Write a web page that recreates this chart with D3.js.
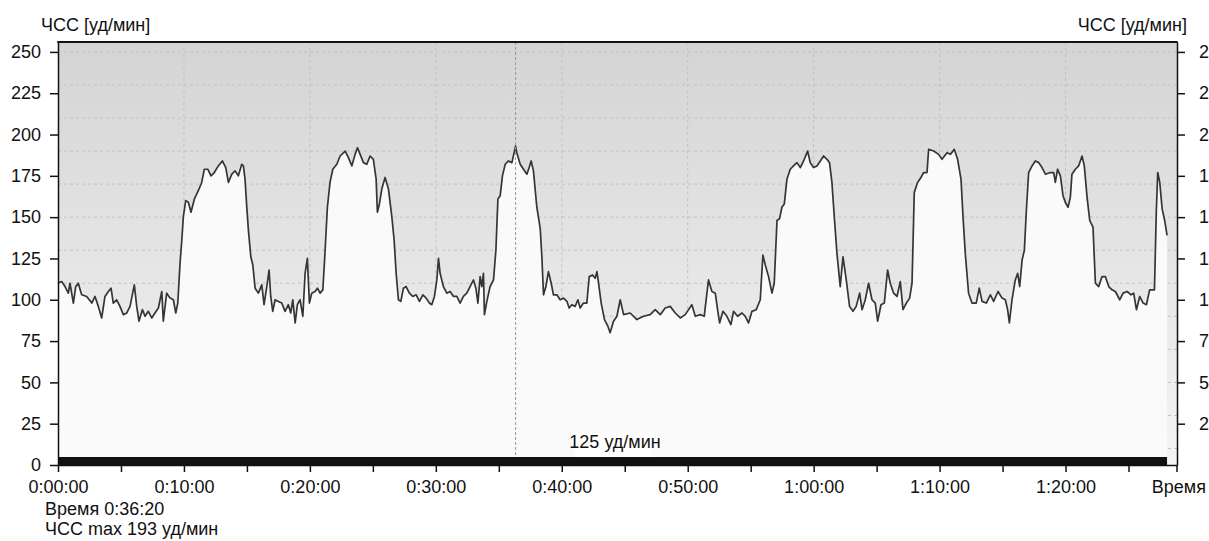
<!DOCTYPE html>
<html><head><meta charset="utf-8">
<script src="https://cdn.jsdelivr.net/npm/d3@7"></script>
<style>
html,body{margin:0;padding:0;background:#fff;}
svg{display:block;font-family:"Liberation Sans",Arial,sans-serif;}
</style></head><body>
<svg id="chart" width="1209" height="541"></svg>
<script>
// time of each heart-rate sample, minutes from start
const timeMinutes = [
0,0.29,0.56,0.82,0.95,1.22,1.41,1.61,1.88,2.28,
2.68,2.94,3.20,3.47,3.73,4.00,4.21,4.39,4.66,4.92,
5.19,5.46,5.72,6.06,6.25,6.43,6.70,6.91,7.17,7.44,
7.70,7.97,8.24,8.36,8.63,8.90,9.16,9.35,9.51,9.69,
9.83,9.95,10.14,10.35,10.56,10.83,11.14,11.41,11.62,11.89,
12.15,12.41,12.73,13.05,13.32,13.53,13.80,14.06,14.32,14.59,
14.72,14.85,14.99,15.12,15.31,15.47,15.65,15.91,16.18,16.36,
16.58,16.76,16.89,17.05,17.24,17.50,17.77,18.03,18.29,18.48,
18.64,18.83,19.01,19.22,19.44,19.62,19.80,19.96,20.15,20.41,
20.60,20.81,21.03,21.21,21.39,21.60,21.82,22.14,22.40,22.80,
23.06,23.33,23.59,23.78,23.99,24.25,24.52,24.78,25.04,25.26,
25.36,25.52,25.71,25.97,26.24,26.51,26.69,26.85,27.03,27.22,
27.43,27.64,27.90,28.17,28.44,28.70,28.97,29.23,29.49,29.68,
29.89,30.08,30.21,30.34,30.60,30.87,31.14,31.40,31.67,31.93,
32.19,32.46,32.72,32.99,33.18,33.34,33.52,33.65,33.78,33.86,
34.05,34.31,34.58,34.77,34.93,35.11,35.29,35.51,35.77,36.04,
36.33,36.43,36.70,36.96,37.23,37.41,37.57,37.75,38.02,38.29,
38.42,38.55,38.74,38.94,39.16,39.34,39.61,39.87,40.14,40.41,
40.59,40.80,41.06,41.28,41.46,41.72,41.99,42.18,42.44,42.65,
42.79,42.92,43.13,43.39,43.66,43.84,44.11,44.38,44.64,44.91,
45.43,45.96,46.49,47.02,47.42,47.82,48.21,48.61,49.01,49.41,
49.80,50.33,50.60,50.99,51.31,51.65,51.92,52.19,52.37,52.53,
52.80,53.11,53.43,53.64,53.96,54.31,54.57,54.83,55.10,55.44,
55.76,55.97,56.16,56.42,56.69,56.87,57.09,57.29,57.48,57.67,
57.88,58.14,58.40,58.67,58.94,59.20,59.52,59.73,59.99,60.26,
60.53,60.79,61.06,61.26,61.45,61.64,61.85,62.11,62.33,62.59,
62.85,63.12,63.38,63.65,63.84,64.10,64.36,64.63,64.89,65.08,
65.35,65.61,65.87,66.08,66.35,66.62,66.88,67.09,67.36,67.62,
67.81,67.99,68.25,68.52,68.73,69.00,69.13,69.53,69.92,70.19,
70.59,70.85,71.17,71.43,71.70,71.86,72.04,72.30,72.57,72.91,
73.15,73.37,73.71,74.03,74.29,74.64,74.96,75.22,75.40,75.54,
75.75,76.01,76.20,76.36,76.55,76.73,76.89,77.07,77.34,77.60,
77.87,78.13,78.40,78.79,79.06,79.19,79.37,79.59,79.80,79.98,
80.20,80.38,80.51,80.78,81.04,81.31,81.49,81.71,81.92,82.18,
82.37,82.63,82.90,83.16,83.43,83.69,83.96,84.30,84.57,84.89,
85.20,85.41,85.63,85.89,86.16,86.42,86.68,87.06,87.21,87.32,
87.48,87.67,87.87,88.06
];
// heart rate, bpm (ЧСС уд/мин)
const heartRate = [
110,111,108,104,110,98,108,110,103,102,
98,102,96,89,102,105,107,98,100,96,
91,92,96,109,96,87,94,90,93,89,
92,95,105,87,104,101,100,92,98,122,
136,150,160,159,153,161,166,171,179,179,
175,177,181,184,180,171,176,178,175,182,
181,173,156,142,126,121,107,104,109,97,
108,118,102,93,100,99,98,93,97,92,
100,86,97,100,90,116,125,98,104,105,
107,104,106,130,156,171,179,182,187,190,
186,181,188,192,188,183,182,187,185,173,
153,158,167,174,167,150,136,116,100,99,
107,108,104,102,103,99,103,101,98,97,
102,112,125,116,108,104,105,102,102,98,
102,104,108,112,107,98,114,108,116,91,
99,108,112,130,161,163,175,182,184,183,
193,189,182,179,176,180,184,178,156,143,
126,103,108,117,110,103,103,100,101,99,
95,97,96,100,95,98,98,114,115,113,
117,110,98,88,84,80,87,90,100,91,
92,88,90,91,94,91,95,96,92,89,
91,97,90,91,90,112,105,104,94,86,
93,90,85,93,90,92,90,86,93,94,
100,127,121,114,104,110,148,149,156,158,
173,179,181,183,180,184,190,183,180,181,
184,187,185,183,171,150,128,108,126,112,
96,93,96,104,94,100,110,100,98,87,
97,98,118,110,104,102,111,94,98,101,
110,165,171,174,177,177,191,190,188,185,
189,188,191,185,173,150,128,104,98,98,
107,99,98,103,99,105,101,100,94,86,
100,112,116,108,124,130,154,177,181,184,
183,180,176,177,177,171,179,175,163,159,
156,162,176,179,181,187,181,162,148,144,
110,108,114,114,108,106,105,100,104,105,
103,104,94,102,98,97,106,106,154,177,
171,155,148,139
];
const yTickValues = [0,25,50,75,100,125,150,175,200,225,250];
const gridValues = [10,30,50,70,90,110,130,150,170,190,210,230,250];
const xTickMinutes = [0,5,10,15,20,25,30,35,40,45,50,55,60,65,70,75,80,85];
const xLabelMinutes = [0,10,20,30,40,50,60,70,80];
const xTickLabels = ["0:00:00","0:10:00","0:20:00","0:30:00","0:40:00","0:50:00","1:00:00","1:10:00","1:20:00"];
const axisTitle = "ЧСС [уд/мин]";
const xAxisTitle = "Время";
const cursorMinutes = 36 + 20/60;
const cursorText = "Время 0:36:20";
const maxText = "ЧСС max 193 уд/мин";
const avgText = "125 уд/мин";

const L = 58, R = 1177, T = 42, B = 465;
const svg = d3.select("#chart");
const x = d3.scaleLinear().domain([0, 88.85]).range([L, R]);
const y = d3.scaleLinear().domain([0, 256]).range([B, T]);
const FS = 18;

const defs = svg.append("defs");
const grad = defs.append("linearGradient").attr("id","bg").attr("x1",0).attr("y1",0).attr("x2",0).attr("y2",1);
grad.append("stop").attr("offset","0%").attr("stop-color","#d4d4d4");
grad.append("stop").attr("offset","100%").attr("stop-color","#f5f5f5");

svg.append("rect").attr("x",L).attr("y",T).attr("width",R-L).attr("height",B-T).attr("fill","url(#bg)");

// gridlines
svg.append("g").selectAll("line").data(gridValues).join("line")
  .attr("x1",L).attr("x2",R).attr("y1",d=>y(d)).attr("y2",d=>y(d))
  .attr("stroke","#c2c2c2").attr("stroke-dasharray","3,3").attr("stroke-width",1);
svg.append("g").selectAll("line").data(xLabelMinutes.filter(d=>d>0)).join("line")
  .attr("x1",d=>x(d)).attr("x2",d=>x(d)).attr("y1",T).attr("y2",B)
  .attr("stroke","#c2c2c2").attr("stroke-dasharray","3,3").attr("stroke-width",1);

const idx = d3.range(timeMinutes.length);
svg.append("path").datum(idx)
  .attr("d", d3.area().x(i=>x(timeMinutes[i])).y0(y(0)).y1(i=>y(heartRate[i])))
  .attr("fill","#fafafa");
svg.append("path").datum(idx)
  .attr("d", d3.line().x(i=>x(timeMinutes[i])).y(i=>y(heartRate[i])))
  .attr("fill","none").attr("stroke","#353535").attr("stroke-width",1.7).attr("stroke-linejoin","round");

// cursor
svg.append("line").attr("x1",x(cursorMinutes)).attr("x2",x(cursorMinutes)).attr("y1",T).attr("y2",B)
  .attr("stroke","#9a9a9a").attr("stroke-dasharray","3,2").attr("stroke-width",1);

// bottom bar
const tLast = timeMinutes[timeMinutes.length-1];
svg.append("rect").attr("x",x(0)).attr("y",y(0)-8).attr("width",x(tLast)-x(0)).attr("height",8).attr("fill","#111");

// avg label
const cx = 615;
svg.append("rect").attr("x",575).attr("y",433).attr("width",76).attr("height",y(0)-8-433).attr("fill","#ffffff");
svg.append("text").attr("x",cx).attr("y",448).attr("text-anchor","middle").attr("font-size",FS).attr("fill","#111").text(avgText);

// axes
function styleAxis(g){
  g.selectAll("path.domain").attr("stroke","#111").attr("stroke-width",1.5);
  g.selectAll(".tick line").attr("stroke","#111").attr("stroke-width",1.5);
  g.selectAll(".tick text").attr("font-size",FS).attr("fill","#111").attr("font-family","Liberation Sans, Arial, sans-serif");
}
svg.append("g").attr("transform",`translate(${L},0)`)
  .call(d3.axisLeft(y).tickValues(yTickValues).tickSize(8).tickPadding(9).tickSizeOuter(0)).call(styleAxis);
// right axis: labels are cut off by the picture edge, only the first digit shows
svg.append("g").attr("transform",`translate(${R},0)`)
  .call(d3.axisRight(y).tickValues(yTickValues.filter(v=>v>0)).tickSize(8).tickPadding(14).tickSizeOuter(0)
    .tickFormat(v => String(v)[0]))
  .call(styleAxis);
svg.append("g").attr("transform",`translate(0,${B})`)
  .call(d3.axisBottom(x).tickValues(xTickMinutes).tickSize(7).tickPadding(8).tickSizeOuter(0)
    .tickFormat(m => { const k = xLabelMinutes.indexOf(m); return k >= 0 ? xTickLabels[k] : ""; }))
  .call(styleAxis);
// end tick and top border
svg.append("line").attr("x1",R).attr("x2",R).attr("y1",B).attr("y2",B+7).attr("stroke","#111").attr("stroke-width",1.5);
svg.append("line").attr("x1",L-0.75).attr("x2",R+0.75).attr("y1",T).attr("y2",T).attr("stroke","#111").attr("stroke-width",2.2);

// titles
svg.append("text").attr("x",41).attr("y",31).attr("font-size",FS).attr("fill","#111").text(axisTitle);
svg.append("text").attr("x",1187).attr("y",31).attr("text-anchor","end").attr("font-size",FS).attr("fill","#111").text(axisTitle);
svg.append("text").attr("x",1206).attr("y",493).attr("text-anchor","end").attr("font-size",FS).attr("fill","#111").text(xAxisTitle);
svg.append("text").attr("x",45).attr("y",515).attr("font-size",FS).attr("fill","#111").text(cursorText);
svg.append("text").attr("x",45).attr("y",535).attr("font-size",FS).attr("fill","#111").text(maxText);
</script>
</body></html>
